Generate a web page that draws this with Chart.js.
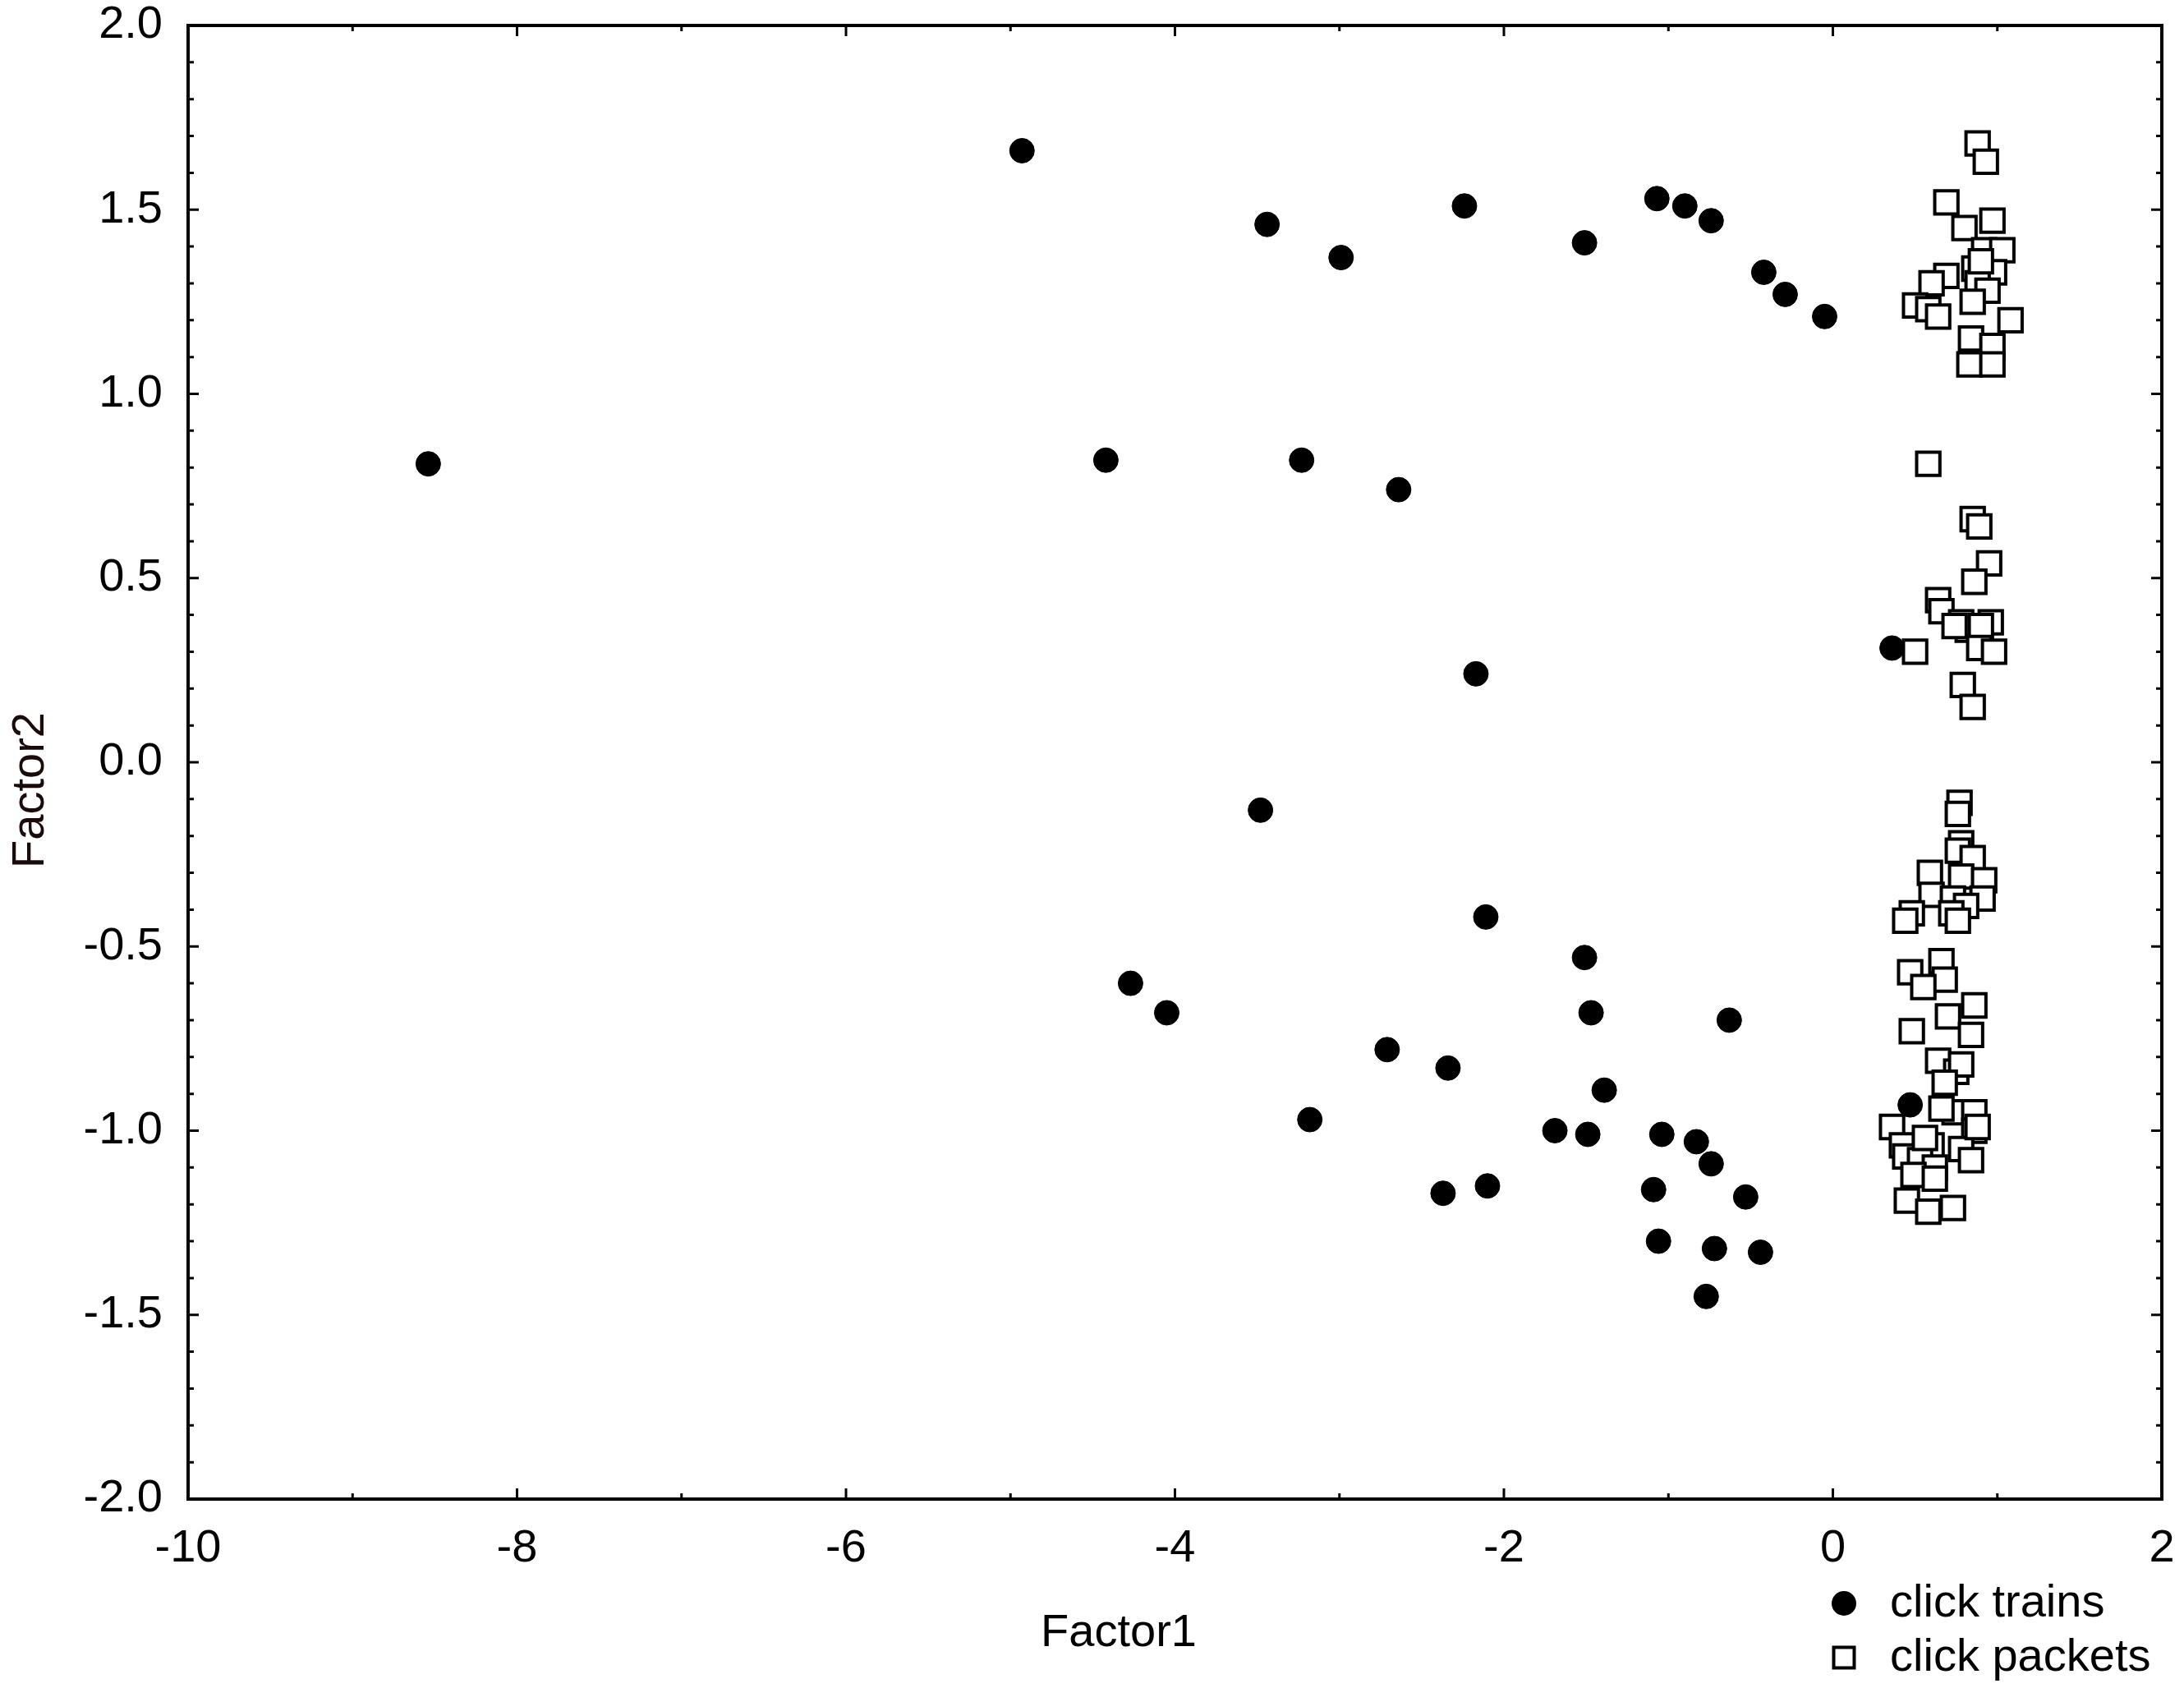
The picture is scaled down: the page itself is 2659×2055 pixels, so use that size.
<!DOCTYPE html>
<html><head><meta charset="utf-8">
<script src="https://cdn.jsdelivr.net/npm/chart.js@4/dist/chart.umd.min.js"></script>
<style>html,body{margin:0;padding:0;background:#fff;}#wrap{width:2659px;height:2055px;}</style>
</head><body><div id="wrap"><canvas id="c" width="2659" height="2055"></canvas></div>
<script>
// ---- data ----
const seriesNames = ['click trains', 'click packets'];
const axisTitles = ['Factor1', 'Factor2'];
const xTickValues = [-10, -8, -6, -4, -2, 0, 2];
const xTickLabels = ['-10', '-8', '-6', '-4', '-2', '0', '2'];
const yTickValues = [-2, -1.5, -1, -0.5, 0, 0.5, 1, 1.5, 2];
const yTickLabels = ['-2.0', '-1.5', '-1.0', '-0.5', '0.0', '0.5', '1.0', '1.5', '2.0'];

const trainsX = [-8.54, -4.93, -3.44, -2.99, -2.24, -1.51, -1.07, -0.90, -0.74, -0.42, -0.29, -0.05,
  -4.42, -3.23, -2.64, -2.17, 0.36, -3.48, -2.11, -4.27, -4.05, -1.51, -1.47, -0.63,
  -2.71, -2.34, -1.39, -3.18, -1.69, -1.49, -1.04, -0.83, -0.74, -1.09, -0.53, -2.37,
  -2.10, -1.06, -0.72, -0.44, -0.77, 0.47];
const trainsY = [0.81, 1.66, 1.46, 1.37, 1.51, 1.41, 1.53, 1.51, 1.47, 1.33, 1.27, 1.21,
  0.82, 0.82, 0.74, 0.24, 0.31, -0.13, -0.42, -0.60, -0.68, -0.53, -0.68, -0.70,
  -0.78, -0.83, -0.89, -0.97, -1.00, -1.01, -1.01, -1.03, -1.09, -1.16, -1.18, -1.17,
  -1.15, -1.30, -1.32, -1.33, -1.45, -0.93];

const packetsX = [0.88, 0.93, 0.69, 0.80, 0.97, 0.92, 1.03, 0.86, 0.98, 0.69, 0.60, 0.88, 0.94, 0.50, 0.58, 0.64, 0.85, 1.08, 0.84, 0.97, 0.83, 0.97, 0.90,
  0.58, 0.85, 0.89, 0.95, 0.86, 0.64, 0.66, 0.78, 0.82, 0.96, 0.90, 0.89, 0.98, 0.50, 0.79, 0.85, 0.74,
  0.77, 0.76, 0.78, 0.76, 0.85, 0.59, 0.78, 0.92, 0.60, 0.73, 0.91, 0.81, 0.48, 0.44, 0.72, 0.76,
  0.66, 0.47, 0.68, 0.55, 0.86, 0.70, 0.48, 0.84,
  0.64, 0.75, 0.78, 0.68, 0.74, 0.66, 0.86, 0.86, 0.36, 0.42, 0.60, 0.78, 0.84, 0.44, 0.53, 0.62, 0.49, 0.62, 0.45, 0.58, 0.73, 0.88, 0.56];
const packetsY = [1.68, 1.63, 1.52, 1.45, 1.47, 1.39, 1.39, 1.34, 1.33, 1.32, 1.30, 1.30, 1.28, 1.24, 1.23, 1.21, 1.25, 1.20, 1.15, 1.13, 1.08, 1.08, 1.36,
  0.81, 0.66, 0.64, 0.54, 0.49, 0.44, 0.41, 0.38, 0.36, 0.38, 0.37, 0.31, 0.30, 0.30, 0.21, 0.15, 0.37,
  -0.11, -0.14, -0.22, -0.24, -0.26, -0.30, -0.31, -0.32, -0.36, -0.37, -0.37, -0.39, -0.41, -0.43, -0.41, -0.43,
  -0.54, -0.57, -0.59, -0.61, -0.66, -0.69, -0.73, -0.74,
  -0.81, -0.84, -0.82, -0.87, -0.95, -0.94, -0.95, -1.00, -0.99, -1.04, -1.04, -1.05, -1.08, -1.07, -1.08, -1.10, -1.12, -1.13, -1.19, -1.22, -1.21, -0.99, -1.02];

// ---- chart ----
const FONT = "'Liberation Sans', Arial, sans-serif";
Chart.defaults.font.family = FONT;
Chart.defaults.font.size = 56;
Chart.defaults.color = '#000';

const toPts = (xs, ys) => xs.map((v, i) => ({ x: v, y: ys[i] }));

const trainStyle = { pointStyle: 'circle', pointRadius: 15, pointBackgroundColor: '#000', pointBorderColor: '#000', pointBorderWidth: 1 };
const packetStyle = { pointStyle: 'rect', pointRadius: 20, pointBackgroundColor: '#fff', pointBorderColor: '#000', pointBorderWidth: 4 };

const framePlugin = {
  id: 'frame',
  afterDraw(chart) {
    const { ctx, chartArea: a, scales: { x, y } } = chart;
    ctx.save();
    ctx.strokeStyle = '#000';
    ctx.lineWidth = 3;
    ctx.beginPath();
    for (let i = -10; i <= 2; i++) {
      const px = x.getPixelForValue(i);
      const L = (i % 2 === 0) ? 13 : 7;
      ctx.moveTo(px, a.bottom); ctx.lineTo(px, a.bottom - L);
      ctx.moveTo(px, a.top); ctx.lineTo(px, a.top + L);
    }
    for (let i = -20; i <= 20; i++) {
      const py = y.getPixelForValue(i / 10);
      const L = (i % 5 === 0) ? 13 : 7;
      ctx.moveTo(a.left, py); ctx.lineTo(a.left + L, py);
      ctx.moveTo(a.right, py); ctx.lineTo(a.right - L, py);
    }
    ctx.stroke();
    ctx.lineWidth = 4;
    ctx.strokeRect(a.left, a.top, a.right - a.left, a.bottom - a.top);

    // axis titles
    ctx.fillStyle = '#000';
    ctx.font = '56px ' + FONT;
    ctx.textAlign = 'center';
    ctx.textBaseline = 'alphabetic';
    ctx.fillText(axisTitles[0], 1362, 2004);
    ctx.save();
    ctx.translate(53, 962);
    ctx.rotate(-Math.PI / 2);
    ctx.fillStyle = '#1a0a0a';
    ctx.fillText(axisTitles[1], 0, 0);
    ctx.restore();

    // legend
    const mx = 2245;
    ctx.fillStyle = '#000';
    ctx.beginPath();
    ctx.arc(mx, 1952, 15, 0, Math.PI * 2);
    ctx.fill();
    ctx.lineWidth = 4;
    ctx.fillStyle = '#fff';
    ctx.fillRect(mx - 12.5, 2018 - 12.5, 25, 25);
    ctx.strokeRect(mx - 12.5, 2018 - 12.5, 25, 25);
    ctx.fillStyle = '#000';
    ctx.textAlign = 'left';
    ctx.fillText(seriesNames[0], 2301, 1968);
    ctx.fillText(seriesNames[1], 2301, 2034);
    ctx.restore();
  }
};

new Chart(document.getElementById('c'), {
  type: 'scatter',
  data: {
    datasets: [
      Object.assign({ label: seriesNames[0], data: toPts(trainsX, trainsY) }, trainStyle),
      Object.assign({ label: seriesNames[1], data: toPts(packetsX, packetsY) }, packetStyle)
    ]
  },
  options: {
    responsive: false,
    devicePixelRatio: 1,
    animation: false,
    layout: { padding: { top: 31, right: 27, left: 0, bottom: 0 } },
    plugins: { legend: { display: false }, tooltip: { enabled: false } },
    scales: {
      x: {
        type: 'linear', min: -10, max: 2,
        grid: { display: false, drawTicks: false },
        border: { display: false },
        afterBuildTicks: s => { s.ticks = xTickValues.map(v => ({ value: v })); },
        ticks: { padding: 27, maxRotation: 0, autoSkip: false, color: '#000',
          callback: (v) => xTickLabels[xTickValues.indexOf(v)] },
        afterFit: s => { s.height = 230; s.paddingLeft = 0; s.paddingRight = 0; }
      },
      y: {
        type: 'linear', min: -2, max: 2,
        grid: { display: false, drawTicks: false },
        border: { display: false },
        afterBuildTicks: s => { s.ticks = yTickValues.map(v => ({ value: v })); },
        ticks: { padding: 31, autoSkip: false, color: '#000',
          callback: (v) => yTickLabels[yTickValues.indexOf(v)] },
        afterFit: s => { s.width = 229; s.paddingTop = 0; s.paddingBottom = 0; }
      }
    }
  },
  plugins: [framePlugin]
});
</script>
</body></html>
